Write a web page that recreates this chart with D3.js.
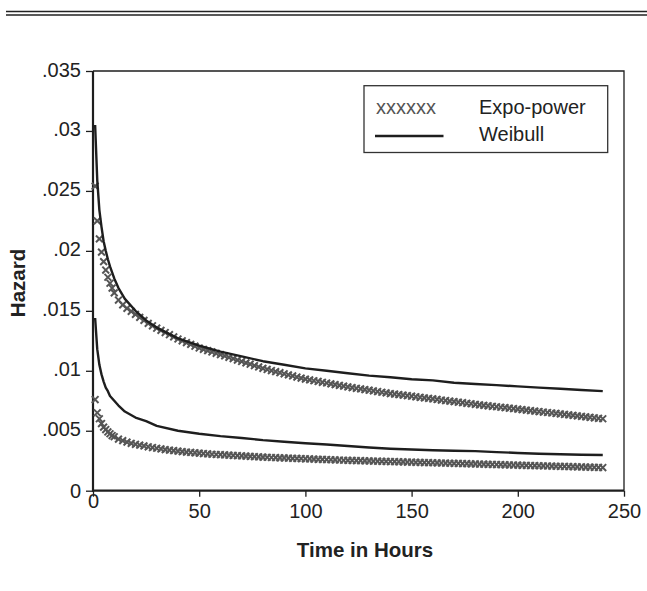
<!DOCTYPE html>
<html><head><meta charset="utf-8">
<script src="https://cdn.jsdelivr.net/npm/d3@7"></script>
<style>body{margin:0;background:#fff}svg{display:block}text{font-family:"Liberation Sans",Arial,sans-serif}</style>
</head><body><svg id="c" width="647" height="591"></svg>
<script>
// ---- data ----
const xTicks = [0, 50, 100, 150, 200, 250];
const xTickLabels = ["0", "50", "100", "150", "200", "250"];
const yTicks = [0, 0.005, 0.01, 0.015, 0.02, 0.025, 0.03, 0.035];
const yTickLabels = ["0", ".005", ".01", ".015", ".02", ".025", ".03", ".035"];
const legendLabels = ["Expo-power", "Weibull"];
const legendMarkerText = "xxxxxx";
const xTitle = "Time in Hours";
const yTitle = "Hazard";

// Expo-power hours (marker positions)
const expoHours = [1,2,3,4,5,6,7,8,9,10,12,14,16,18,20,22,24,26,28,30,32,34,36,38,40,42,44,46,48,50,52,54,56,58,60,62,64,66,68,70,72,74,76,78,80,82,84,86,88,90,92,94,96,98,100,102,104,106,108,110,112,114,116,118,120,122,124,126,128,130,132,134,136,138,140,142,144,146,148,150,152,154,156,158,160,162,164,166,168,170,172,174,176,178,180,182,184,186,188,190,192,194,196,198,200,202,204,206,208,210,212,214,216,218,220,222,224,226,228,230,232,234,236,238,240];
const expoHigh = [0.0254,0.0225,0.0210,0.0199,0.0191,0.0184,0.0178,0.0173,0.0169,0.0165,0.0159,0.0155,0.0152,0.01495,0.0147,0.01445,0.0142,0.01395,0.01375,0.01355,0.01337,0.01319,0.01301,0.01283,0.01265,0.0125,0.01235,0.0122,0.01205,0.0119,0.01179,0.01168,0.01157,0.01146,0.01135,0.01124,0.01112,0.01101,0.01089,0.01078,0.01066,0.01055,0.01043,0.01032,0.0102,0.01011,0.01002,0.00993,0.00984,0.00975,0.00966,0.00957,0.00948,0.00939,0.0093,0.00924,0.00917,0.00911,0.00904,0.00898,0.00891,0.00885,0.00878,0.00872,0.00865,0.0086,0.00854,0.00849,0.00843,0.00838,0.00832,0.00827,0.00821,0.00816,0.0081,0.00806,0.00801,0.00797,0.00792,0.00788,0.00783,0.00779,0.00774,0.0077,0.00765,0.00761,0.00756,0.00752,0.00747,0.00743,0.00738,0.00734,0.00729,0.00725,0.0072,0.00716,0.00712,0.00708,0.00704,0.007,0.00696,0.00692,0.00688,0.00684,0.0068,0.00676,0.00672,0.00668,0.00664,0.0066,0.00656,0.00652,0.00648,0.00644,0.0064,0.00636,0.00632,0.00628,0.00624,0.0062,0.00616,0.00612,0.00608,0.00604,0.006];
const expoLow = [0.0076,0.0065,0.0060,0.0056,0.0053,0.0051,0.0049,0.00475,0.0046,0.0045,0.0043,0.00418,0.00405,0.00395,0.00387,0.0038,0.00373,0.00366,0.0036,0.00354,0.00348,0.00343,0.00338,0.00334,0.0033,0.00326,0.00322,0.00319,0.00316,0.00313,0.0031,0.00307,0.00304,0.00302,0.003,0.00298,0.00296,0.00294,0.00292,0.0029,0.00288,0.00286,0.00284,0.00282,0.0028,0.00279,0.00277,0.00276,0.00274,0.00273,0.00272,0.0027,0.00269,0.00268,0.00266,0.00265,0.00263,0.00262,0.00261,0.0026,0.00258,0.00257,0.00256,0.00254,0.00253,0.00252,0.00251,0.0025,0.00249,0.00248,0.00247,0.00246,0.00245,0.00244,0.00243,0.00242,0.00241,0.0024,0.00239,0.00238,0.00237,0.00236,0.00235,0.00234,0.00233,0.00232,0.00231,0.0023,0.00229,0.00228,0.00227,0.00226,0.00225,0.00224,0.00223,0.00222,0.00221,0.0022,0.00219,0.00218,0.00217,0.00216,0.00215,0.00214,0.00213,0.00212,0.00211,0.0021,0.00209,0.00208,0.00207,0.00206,0.00205,0.00204,0.00203,0.00202,0.00201,0.002,0.00199,0.00198,0.00197,0.00196,0.00195,0.00194,0.00193];

// Weibull hours (line vertices)
const weibullHours = [1,2,3,4,5,6,7,8,10,12,15,20,25,30,40,50,60,70,80,90,100,110,120,130,140,150,160,170,180,190,200,210,220,230,240];
const weibullHigh = [0.0305,0.0259,0.0234,0.0220,0.0208,0.0200,0.0193,0.0187,0.0177,0.0169,0.0160,0.0150,0.0142,0.0136,0.0127,0.0121,0.0116,0.0112,0.0108,0.0105,0.0102,0.0100,0.0098,0.0096,0.00946,0.0093,0.0092,0.0090,0.0089,0.0088,0.0087,0.0086,0.0085,0.0084,0.0083];
const weibullLow = [0.0144,0.0118,0.0105,0.0097,0.0091,0.0086,0.0083,0.0079,0.0075,0.0071,0.0066,0.0061,0.0058,0.0054,0.0050,0.00475,0.00455,0.0044,0.00422,0.00408,0.00396,0.00385,0.00373,0.0036,0.0035,0.00343,0.00337,0.00333,0.0033,0.00322,0.00315,0.00308,0.00304,0.003,0.00298];

// ---- drawing ----
const svg = d3.select("#c");
const L = 93, R = 624, T = 71, B = 490.7;
const x = d3.scaleLinear().domain([0, 250]).range([L, R]);
const y = d3.scaleLinear().domain([0, 0.035]).range([B, T]);
const ink = "#1e1e1e", gray = "#555";
const font = 20;

// top double rule
[11.5, 15].forEach(yy => svg.append("line").attr("x1", 6).attr("x2", 647).attr("y1", yy).attr("y2", yy)
  .attr("stroke", "#222").attr("stroke-width", 1.3));

// frame (top/right)
svg.append("path").attr("d", `M${L},${T}H${R}V${B}`).attr("fill", "none").attr("stroke", ink).attr("stroke-width", 1.3);

// y axis
const ya = d3.axisLeft(y).tickValues(yTicks).tickSize(7).tickPadding(5)
  .tickFormat((d, i) => yTickLabels[i]);
const gy = svg.append("g").attr("transform", `translate(${L},0)`).call(ya);
gy.select(".domain").remove();
gy.selectAll(".tick line").attr("stroke", ink).attr("stroke-width", 1.3);
gy.selectAll(".tick text").attr("font-size", font).attr("fill", "#222").attr("font-family", "Liberation Sans, Arial, sans-serif")
  .attr("dy", (d, i) => i === 0 ? "0.35em" : "0.25em");

// x axis
const xa = d3.axisBottom(x).tickValues(xTicks).tickSize(6).tickPadding(7)
  .tickFormat((d, i) => xTickLabels[i]);
const gx = svg.append("g").attr("transform", `translate(0,${B})`).call(xa);
gx.select(".domain").remove();
gx.selectAll(".tick line").attr("stroke", ink).attr("stroke-width", 1.3);
gx.selectAll(".tick text").attr("font-size", font).attr("fill", "#222").attr("font-family", "Liberation Sans, Arial, sans-serif")
  .attr("dy", (d, i) => i === 0 ? "0.2em" : "0.7em");

// axis lines
svg.append("path").attr("d", `M${L},${T}V${B}H${R}`).attr("fill", "none").attr("stroke", ink).attr("stroke-width", 2.2);

// expo-power markers
const xMark = "M-3.4,-3.4L3.4,3.4M-3.4,3.4L3.4,-3.4";
[expoHigh, expoLow].forEach(vals => {
  svg.append("g").selectAll("path").data(expoHours.map((h, i) => [h, vals[i]])).join("path")
    .attr("d", xMark).attr("transform", d => `translate(${x(d[0])},${y(d[1])})`)
    .attr("stroke", gray).attr("stroke-width", 2).attr("fill", "none");
});

// weibull lines
const line = d3.line().x(d => x(d[0])).y(d => y(d[1]));
[weibullHigh, weibullLow].forEach(vals => {
  svg.append("path").datum(weibullHours.map((h, i) => [h, vals[i]])).attr("d", line)
    .attr("fill", "none").attr("stroke", ink).attr("stroke-width", 2.4).attr("stroke-linejoin", "round");
});

// legend
svg.append("rect").attr("x", 364).attr("y", 85.7).attr("width", 243.7).attr("height", 66.8)
  .attr("fill", "#fff").attr("stroke", "#333").attr("stroke-width", 1.3);
svg.append("text").attr("x", 376).attr("y", 114).attr("font-size", font).attr("fill", gray).text(legendMarkerText);
svg.append("line").attr("x1", 375).attr("x2", 443.5).attr("y1", 136).attr("y2", 136).attr("stroke", ink).attr("stroke-width", 2.4);
svg.append("text").attr("x", 479).attr("y", 114).attr("font-size", font).attr("fill", "#222").text(legendLabels[0]);
svg.append("text").attr("x", 479).attr("y", 140.5).attr("font-size", font).attr("fill", "#222").text(legendLabels[1]);

// titles
svg.append("text").attr("x", 365).attr("y", 557).attr("text-anchor", "middle").attr("font-size", 20.5)
  .attr("font-weight", "bold").attr("fill", "#222").text(xTitle);
svg.append("text").attr("transform", "translate(25,283) rotate(-90)").attr("text-anchor", "middle").attr("font-size", 20.5)
  .attr("font-weight", "bold").attr("fill", "#222").text(yTitle);
</script></body></html>
